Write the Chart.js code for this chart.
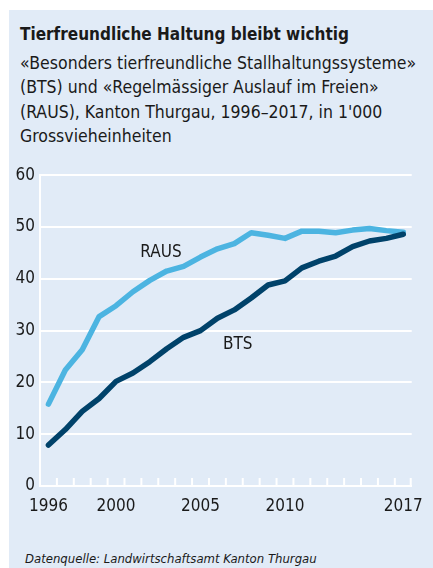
<!DOCTYPE html>
<html>
<head>
<meta charset="utf-8">
<script src="https://cdn.jsdelivr.net/npm/chart.js@4/dist/chart.umd.min.js"></script>
<style>
  html, body { margin: 0; padding: 0; background: #ffffff; }
  body { width: 433px; height: 568px; position: relative; overflow: hidden;
         font-family: "Liberation Sans Narrow", "DejaVu Sans Condensed", "Liberation Sans", sans-serif; color: #1a1a1a; }
  #panel { position: absolute; left: 9px; top: 10px; width: 424px; height: 558px; background: #e1ebf7; }
  #title { position: absolute; left: 20px; top: 24px; font-size: 17px; font-weight: bold; line-height: 20px; white-space: nowrap; }
  #sub { position: absolute; left: 20px; top: 51px; font-size: 17.5px; line-height: 24.3px; white-space: nowrap; }
  #src { position: absolute; left: 25px; top: 550px; font-size: 13px; font-style: italic; line-height: 18px; white-space: nowrap; }
  #wrap { position: absolute; left: 9px; top: 160px; width: 424px; height: 370px; }
</style>
</head>
<body>
<div id="panel"></div>
<div id="title">Tierfreundliche Haltung bleibt wichtig</div>
<div id="sub">«Besonders tierfreundliche Stallhaltungssysteme»<br>(BTS) und «Regelmässiger Auslauf im Freien»<br>(RAUS), Kanton Thurgau, 1996–2017, in 1'000<br>Grossvieheinheiten</div>
<div id="wrap"><canvas id="c"></canvas></div>
<div id="src">Datenquelle: Landwirtschaftsamt Kanton Thurgau</div>
<script>
const years = ["1996","1997","1998","1999","2000","2001","2002","2003","2004","2005","2006","2007","2008","2009","2010","2011","2012","2013","2014","2015","2016","2017"];
const shownYears = ["1996","2000","2005","2010","2017"];
const bts  = [7.9,10.9,14.4,16.9,20.2,21.8,24.0,26.5,28.7,30.0,32.4,34.0,36.3,38.8,39.6,42.1,43.4,44.4,46.2,47.3,47.8,48.6];
const raus = [15.8,22.4,26.3,32.7,34.8,37.5,39.7,41.5,42.4,44.2,45.8,46.8,48.9,48.4,47.8,49.2,49.2,48.9,49.4,49.7,49.3,49.0];
const yTicks = [0,10,20,30,40,50,60];
const seriesLabels = [
  { text: "RAUS", idx: 6.66, value: 45.0 },
  { text: "BTS",  idx: 11.2, value: 27.3 }
];

const FONT = '"Liberation Sans Narrow", "DejaVu Sans Condensed", "Liberation Sans", sans-serif';
const TEXT = '#1a1a1a';

const innerTicks = {
  id: 'innerTicks',
  afterDatasetsDraw(chart) {
    const xs = chart.scales.x, ca = chart.chartArea, ctx = chart.ctx;
    ctx.save();
    ctx.strokeStyle = '#ffffff';
    ctx.lineWidth = 2;
    for (let i = 1; i <= years.length; i++) {
      let x;
      if (i === years.length) x = ca.right - 1;
      else x = (xs.getPixelForValue(i - 1) + xs.getPixelForValue(i)) / 2;
      ctx.beginPath();
      ctx.moveTo(x, ca.bottom);
      ctx.lineTo(x, ca.bottom - 8);
      ctx.stroke();
    }
    ctx.fillStyle = TEXT;
    ctx.font = '17px ' + FONT;
    ctx.textAlign = 'center';
    ctx.textBaseline = 'middle';
    const ys = chart.scales.y;
    seriesLabels.forEach(l => {
      ctx.fillText(l.text, xs.getPixelForValue(l.idx), ys.getPixelForValue(l.value));
    });
    ctx.restore();
  }
};

new Chart(document.getElementById('c'), {
  type: 'line',
  data: {
    labels: years,
    datasets: [
      { label: 'BTS', data: bts, borderColor: '#00426a', borderWidth: 5.5, pointRadius: 0, tension: 0, borderCapStyle: 'round', borderJoinStyle: 'round' },
      { label: 'RAUS', data: raus, borderColor: '#4cb4e1', borderWidth: 5.5, pointRadius: 0, tension: 0, borderCapStyle: 'round', borderJoinStyle: 'round' }
    ]
  },
  options: {
    responsive: true,
    maintainAspectRatio: false,
    animation: false,
    layout: { padding: { top: 13, right: 12, left: 0, bottom: 0 } },
    plugins: { legend: { display: false }, tooltip: { enabled: false } },
    scales: {
      x: {
        offset: true,
        grid: { display: true, drawOnChartArea: false, drawTicks: false, color: '#ffffff' },
        border: { display: true, color: '#ffffff', width: 2 },
        ticks: {
          autoSkip: false, maxRotation: 0, padding: 10, color: TEXT,
          font: { family: FONT, size: 17 },
          callback: function(v) { const l = years[v]; return shownYears.includes(l) ? l : null; }
        },
        afterFit(s) { s.height = 44; }
      },
      y: {
        min: 0, max: 60,
        grid: { color: '#ffffff', lineWidth: 2, drawTicks: false },
        border: { display: true, color: '#ffffff', width: 2 },
        afterBuildTicks(s) { s.ticks = yTicks.map(v => ({ value: v })); },
        ticks: { padding: 5, color: TEXT, font: { family: FONT, size: 17 } },
        afterFit(s) { s.width = 31; }
      }
    }
  },
  plugins: [innerTicks]
});
</script>
</body>
</html>
